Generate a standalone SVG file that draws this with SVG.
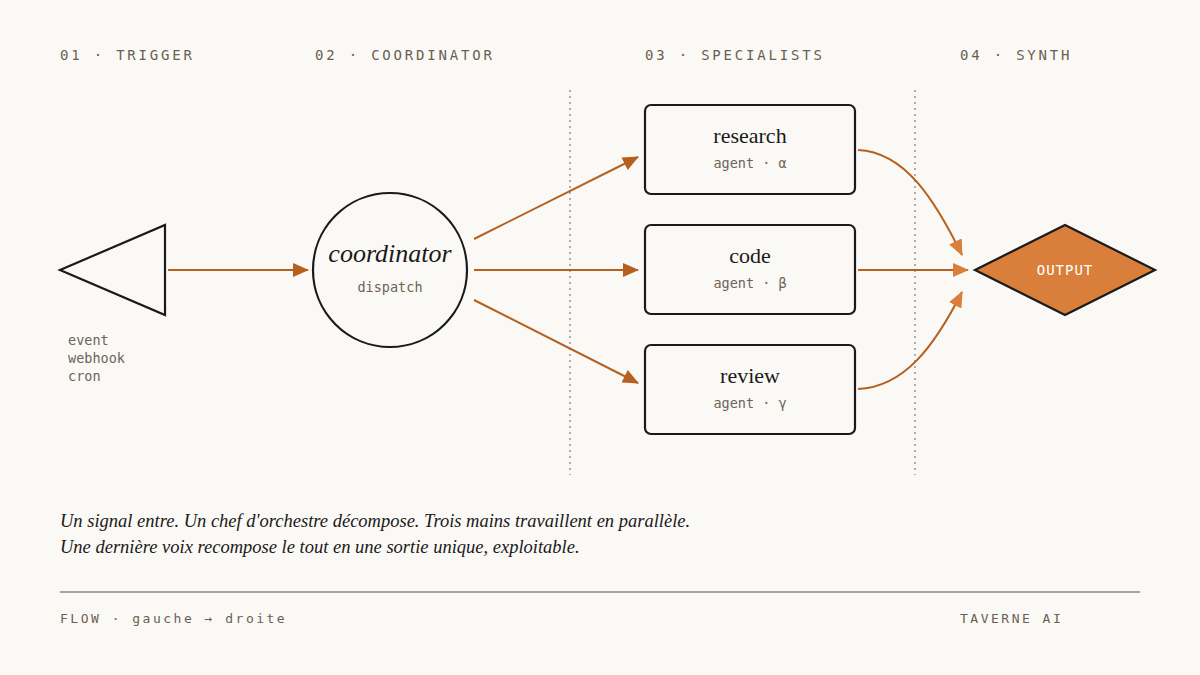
<svg xmlns="http://www.w3.org/2000/svg" width="1200" height="675" viewBox="0 0 1200 675">
<defs>
<style>
.hdr{font-family:"DejaVu Sans Mono","Liberation Mono",monospace;font-size:14px;letter-spacing:2.8px;fill:#6b5f52}
.mono{font-family:"DejaVu Sans Mono","Liberation Mono",monospace;font-size:13.5px;fill:#6b645c}
.title{font-family:"Liberation Serif","DejaVu Serif",serif;font-size:22px;fill:#1a1a1a}
.para{font-family:"Liberation Serif","DejaVu Serif",serif;font-style:italic;font-size:18.5px;fill:#1a1a1a}
.node{fill:none;stroke:#1a1a1a;stroke-width:2.2}
.conn{fill:none;stroke:#b5601e;stroke-width:2}
.guide{stroke:#9a958d;stroke-width:1.5;stroke-dasharray:2 4}
.foot{font-family:"DejaVu Sans Mono","Liberation Mono",monospace;font-size:13px;letter-spacing:2.5px;fill:#6b5f52}
</style>
<marker id="ah2" viewBox="0 0 16 14" refX="15" refY="7" markerWidth="16" markerHeight="14" markerUnits="userSpaceOnUse" orient="auto">
<path d="M0,0 L16,7 L0,14 z" fill="#b5601e"/>
</marker>
<marker id="ah3" viewBox="0 0 16 14" refX="15" refY="7" markerWidth="16" markerHeight="14" markerUnits="userSpaceOnUse" orient="auto">
<path d="M0,0 L16,7 L0,14 z" fill="#d97f3b"/>
</marker>
</defs>
<rect width="1200" height="675" fill="#faf9f5"/>
<g id="headers">
<text class="hdr" x="60" y="60">01 · TRIGGER</text>
<text class="hdr" x="315" y="60">02 · COORDINATOR</text>
<text class="hdr" x="645" y="60">03 · SPECIALISTS</text>
<text class="hdr" x="960" y="60">04 · SYNTH</text>
</g>
<g id="guides">
<line class="guide" x1="570" y1="90" x2="570" y2="475"/>
<line class="guide" x1="915" y1="90" x2="915" y2="475"/>
</g>
<g id="connectors">
<line class="conn" x1="168" y1="270" x2="308" y2="270" marker-end="url(#ah2)"/>
<line class="conn" x1="474" y1="239" x2="638" y2="157" marker-end="url(#ah2)"/>
<line class="conn" x1="474" y1="270" x2="638" y2="270" marker-end="url(#ah2)"/>
<line class="conn" x1="474" y1="300" x2="638" y2="383" marker-end="url(#ah2)"/>
<path class="conn" d="M858,150 C905,152 935,200 962,255" marker-end="url(#ah3)"/>
<line class="conn" x1="858" y1="270" x2="968" y2="270" marker-end="url(#ah3)"/>
<path class="conn" d="M858,389 C905,387 935,345 962,292" marker-end="url(#ah3)"/>
</g>
<g id="trigger">
<polygon class="node" points="60,270 165,225 165,315"/>
<text class="mono" x="68" y="345">event</text>
<text class="mono" x="68" y="363">webhook</text>
<text class="mono" x="68" y="381">cron</text>
</g>
<g id="coordinator">
<circle class="node" cx="390" cy="270" r="77"/>
<text x="390" y="262" text-anchor="middle" font-family="'Liberation Serif','DejaVu Serif',serif" font-style="italic" font-size="26" fill="#1a1a1a">coordinator</text>
<text class="mono" x="390" y="292" text-anchor="middle" font-size="15">dispatch</text>
</g>
<g id="research">
<rect class="node" x="645" y="105" width="210" height="89" rx="6"/>
<text class="title" x="750" y="143" text-anchor="middle">research</text>
<text class="mono" x="750" y="168" text-anchor="middle">agent · α</text>
</g>
<g id="code">
<rect class="node" x="645" y="225" width="210" height="89" rx="6"/>
<text class="title" x="750" y="263" text-anchor="middle">code</text>
<text class="mono" x="750" y="288" text-anchor="middle">agent · β</text>
</g>
<g id="review">
<rect class="node" x="645" y="345" width="210" height="89" rx="6"/>
<text class="title" x="750" y="383" text-anchor="middle">review</text>
<text class="mono" x="750" y="408" text-anchor="middle">agent · γ</text>
</g>
<g id="output">
<polygon points="975,270 1065,225 1155,270 1065,315" fill="#d97f3b" stroke="#1a1a1a" stroke-width="2.2"/>
<text x="1065" y="275" text-anchor="middle" font-family="'DejaVu Sans Mono','Liberation Mono',monospace" font-size="14" letter-spacing="1" fill="#ffffff">OUTPUT</text>
</g>
<g id="caption">
<text class="para" x="60" y="527">Un signal entre. Un chef d'orchestre décompose. Trois mains travaillent en parallèle.</text>
<text class="para" x="60" y="553">Une dernière voix recompose le tout en une sortie unique, exploitable.</text>
</g>
<g id="footer">
<line x1="60" y1="592" x2="1140" y2="592" stroke="#555049" stroke-width="1.2"/>
<text class="foot" x="60" y="623">FLOW · gauche → droite</text>
<text class="foot" x="960" y="623">TAVERNE AI</text>
</g>
</svg>
